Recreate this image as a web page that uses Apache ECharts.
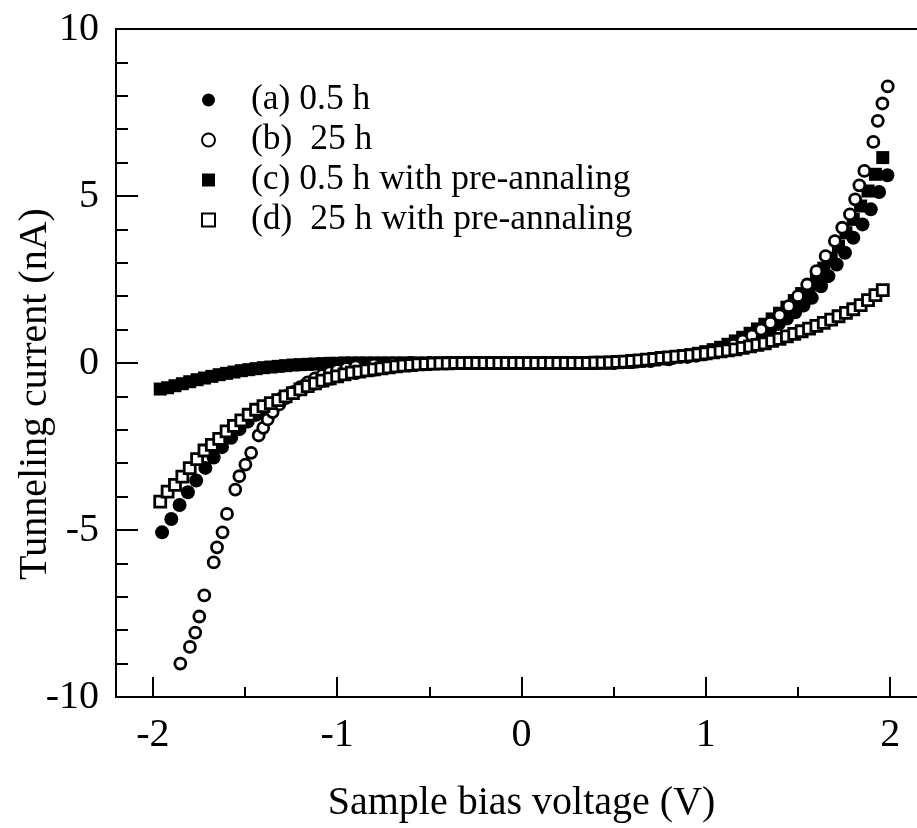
<!DOCTYPE html>
<html><head><meta charset="utf-8">
<script src="https://cdn.jsdelivr.net/npm/echarts@6/dist/echarts.min.js"></script>
<style>html,body{margin:0;padding:0;background:#fff}#c{width:917px;height:828px}</style>
</head><body><div id="c"></div>
<script>
// Sample bias voltage grid for series (c) and (d)
const V = [
-1.96,-1.92,-1.88,-1.84,-1.80,-1.76,-1.72,-1.68,-1.64,-1.60,
-1.56,-1.52,-1.48,-1.44,-1.40,-1.36,-1.32,-1.28,-1.24,-1.20,
-1.16,-1.12,-1.08,-1.04,-1.00,-0.96,-0.92,-0.88,-0.84,-0.80,
-0.76,-0.72,-0.68,-0.64,-0.60,-0.56,-0.52,-0.48,-0.44,-0.40,
-0.36,-0.32,-0.28,-0.24,-0.20,-0.16,-0.12,-0.08,-0.04,0.00,
0.04,0.08,0.12,0.16,0.20,0.24,0.28,0.32,0.36,0.40,
0.44,0.48,0.52,0.56,0.60,0.64,0.68,0.72,0.76,0.80,
0.84,0.88,0.92,0.96,1.00,1.04,1.08,1.12,1.16,1.20,
1.24,1.28,1.32,1.36,1.40,1.44,1.48,1.52,1.56,1.60,
1.64,1.68,1.72,1.76,1.80,1.84,1.88,1.92,1.96];
// (c) 0.5 h with pre-annealing
const cI = [
-0.78,-0.74,-0.68,-0.62,-0.56,-0.50,-0.45,-0.40,-0.35,-0.31,
-0.27,-0.23,-0.20,-0.17,-0.14,-0.12,-0.10,-0.08,-0.06,-0.05,
-0.04,-0.03,-0.02,-0.01,-0.01,0,0,0,0,0,
0,0,0,0,0,0,0,0,0,0,
0,0,0,0,0,0,0,0,0,0,
0,0,0,0,0,0,0,0,0,0,
0,0,0.01,0.02,0.03,0.05,0.07,0.09,0.12,0.15,
0.18,0.21,0.25,0.29,0.34,0.40,0.47,0.56,0.66,0.77,
0.89,1.02,1.16,1.32,1.49,1.67,1.87,2.08,2.31,2.56,
2.84,3.14,3.50,3.90,4.30,4.70,5.15,5.65,6.15];
// (d) 25 h with pre-annealing
const dI = [
-4.15,-3.85,-3.65,-3.40,-3.15,-2.88,-2.62,-2.45,-2.27,-2.05,
-1.88,-1.72,-1.55,-1.40,-1.29,-1.20,-1.11,-1.00,-0.90,-0.79,
-0.69,-0.61,-0.53,-0.46,-0.40,-0.34,-0.29,-0.26,-0.22,-0.19,
-0.16,-0.13,-0.10,-0.08,-0.06,-0.04,-0.03,-0.02,-0.01,-0.01,
0,0,0,0,0,0,0,0,0,0,
0,0,0,0,0,0,0,0,0,0.01,
0.01,0.02,0.03,0.04,0.06,0.08,0.10,0.12,0.15,0.17,
0.19,0.21,0.23,0.26,0.29,0.32,0.35,0.38,0.41,0.45,
0.50,0.54,0.59,0.66,0.72,0.80,0.87,0.95,1.03,1.11,
1.20,1.30,1.40,1.50,1.61,1.73,1.88,2.03,2.18];
// (a) 0.5 h
const aV = [-1.95,-1.90,-1.855,-1.81,-1.765,-1.715,-1.67,-1.625,-1.575,-1.53,
-1.485,-1.44,-1.395,-1.35,-1.305,-1.26,-1.215,-1.17,-1.125,-1.08,
-1.035,-0.99,-0.9,-0.8,-0.7,-0.6,-0.5,-0.4,-0.3,-0.2,
-0.1,0,0.1,0.2,0.3,0.4,0.5,0.6,0.7,0.8,
0.9,0.99,1.035,1.08,1.125,1.17,1.215,1.26,1.305,1.35,
1.395,1.44,1.485,1.53,1.575,1.625,1.665,1.71,1.755,1.80,
1.85,1.895,1.94,1.985];
const aI = [-5.07,-4.67,-4.25,-3.87,-3.52,-3.14,-2.83,-2.52,-2.24,-1.98,
-1.75,-1.55,-1.37,-1.21,-1.07,-0.94,-0.82,-0.71,-0.62,-0.54,
-0.47,-0.40,-0.30,-0.20,-0.12,-0.07,-0.03,-0.01,0,0,
0,0,0,0,0,0.01,0.02,0.05,0.09,0.14,
0.20,0.27,0.33,0.40,0.48,0.57,0.67,0.78,0.90,1.03,
1.17,1.33,1.52,1.72,1.95,2.30,2.60,2.95,3.30,3.75,
4.15,4.60,5.12,5.62];
// (b) 25 h
const bV = [-1.851,-1.799,-1.770,-1.748,-1.721,-1.670,-1.652,-1.622,-1.598,-1.553,
-1.531,-1.498,-1.467,-1.426,-1.401,-1.377,-1.350,-1.314,-1.28,-1.24,
-1.20,-1.16,-1.12,-1.08,-1.04,-1.00,-0.95,-0.90,-0.80,-0.70,
-0.60,-0.50,-0.40,-0.30,-0.20,-0.10,0,0.10,0.20,0.30,
0.40,0.50,0.60,0.70,0.80,0.90,0.95,1.00,1.05,1.10,
1.15,1.20,1.25,1.30,1.35,1.40,1.45,1.50,1.55,1.60,
1.65,1.70,1.74,1.782,1.810,1.833,1.860,1.909,1.933,1.958,
1.987];
const bI = [-9.00,-8.50,-8.07,-7.59,-6.96,-5.97,-5.52,-5.07,-4.52,-3.79,
-3.39,-3.04,-2.69,-2.17,-1.94,-1.69,-1.47,-1.24,-1.05,-0.87,
-0.72,-0.58,-0.46,-0.36,-0.28,-0.21,-0.15,-0.10,-0.05,-0.02,
0,0,0,0,0,0,0,0,0,0,
0,0,0.03,0.06,0.11,0.18,0.22,0.27,0.34,0.43,
0.54,0.67,0.82,1.00,1.20,1.43,1.70,2.00,2.35,2.75,
3.20,3.65,4.05,4.45,4.90,5.32,5.75,6.62,7.25,7.77,
8.28];

const xMajorTicks = [-2, -1, 0, 1, 2];
const xMinorTicks = [-1.5, -0.5, 0.5, 1.5];
const names = ['(a) 0.5 h', '(b)  25 h', '(c) 0.5 h with pre-annaling', '(d)  25 h with pre-annaling'];
const xTitle = 'Sample bias voltage (V)';
const yTitle = 'Tunneling current (nA)';

function pairs(xs, ys) { return xs.map((x, i) => [x, ys[i]]); }

const FONT = "'Liberation Serif','Times New Roman',serif";
const chart = echarts.init(document.getElementById('c'), null, {renderer: 'canvas'});
const filled = {color: '#000', borderWidth: 0, opacity: 1};
const open = {color: '#fff', borderColor: '#000', borderWidth: 2.8, opacity: 1};

chart.setOption({
  animation: false,
  backgroundColor: '#fff',
  grid: {left: 116, right: -10, top: 29, bottom: 131, show: true, borderColor: '#000', borderWidth: 2,
         containLabel: false, outerBoundsMode: 'none'},
  legend: {
    orient: 'vertical', left: 196, top: 75, itemWidth: 13, itemHeight: 13, itemGap: 0,
    selectedMode: false, data: names,
    itemStyle: {opacity: 1},
    textStyle: {fontFamily: FONT, fontSize: 35.5, lineHeight: 40, color: '#000', padding: [0, 0, 0, 31]}
  },
  xAxis: [{
    type: 'value', min: -2.2, max: 2.2, position: 'bottom',
    name: xTitle, nameLocation: 'middle', nameGap: 86,
    nameTextStyle: {fontFamily: FONT, fontSize: 40, color: '#000'},
    axisLine: {onZero: false, lineStyle: {color: '#000', width: 2}},
    axisTick: {inside: true, length: 20, customValues: xMajorTicks, lineStyle: {color: '#000', width: 2}},
    axisLabel: {customValues: xMajorTicks, margin: 18, fontFamily: FONT, fontSize: 40, color: '#000'},
    splitLine: {show: false}
  }, {
    type: 'value', min: -2.2, max: 2.2, position: 'bottom', offset: 0,
    axisLine: {show: false, onZero: false},
    axisTick: {inside: true, length: 10, customValues: xMinorTicks, lineStyle: {color: '#000', width: 2}},
    axisLabel: {show: false},
    splitLine: {show: false}
  }],
  yAxis: {
    type: 'value', min: -10, max: 10, interval: 5,
    axisLine: {onZero: false, lineStyle: {color: '#000', width: 2}},
    axisTick: {inside: true, length: 22, lineStyle: {color: '#000', width: 2}},
    minorTick: {show: true, splitNumber: 5, length: 12, lineStyle: {color: '#000', width: 2}},
    axisLabel: {margin: 17, fontFamily: FONT, fontSize: 40, color: '#000'},
    splitLine: {show: false}, minorSplitLine: {show: false}
  },
  graphic: [{
    type: 'text', x: 35, y: 394, rotation: Math.PI / 2,
    style: {text: yTitle, font: "40px 'Liberation Serif','Times New Roman',serif", fill: '#000',
            textAlign: 'center', textVerticalAlign: 'middle'}
  }],
  series: [
    {name: names[0], type: 'scatter', symbol: 'circle', symbolSize: 14, itemStyle: filled, data: pairs(aV, aI)},
    {name: names[2], type: 'scatter', symbol: 'rect', symbolSize: 13, itemStyle: filled, data: pairs(V, cI)},
    {name: names[1], type: 'scatter', symbol: 'circle', symbolSize: 11, itemStyle: open, data: pairs(bV, bI)},
    {name: names[3], type: 'scatter', symbol: 'rect', symbolSize: 11, itemStyle: open, data: pairs(V, dI)}
  ]
});
</script>
</body></html>
